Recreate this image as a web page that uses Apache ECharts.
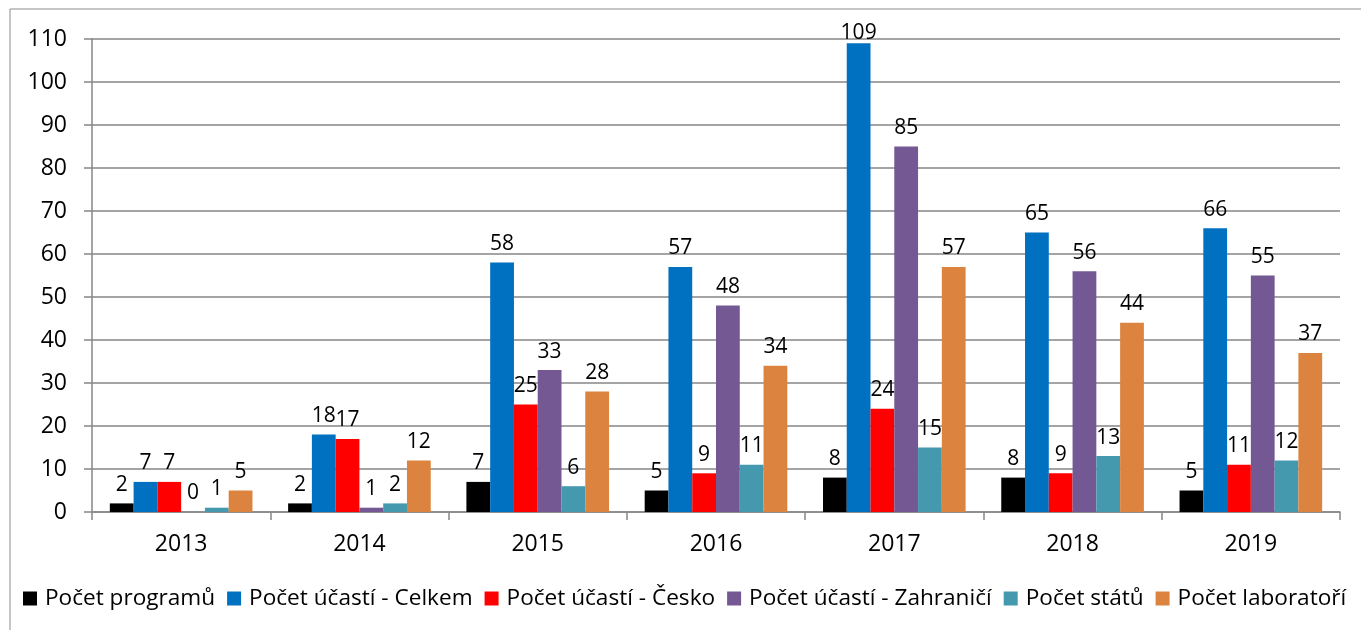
<!DOCTYPE html>
<html><head><meta charset="utf-8">
<script src="https://cdn.jsdelivr.net/npm/echarts@6/dist/echarts.min.js"></script>
<style>html,body{margin:0;padding:0;background:#fff}#c{width:1361px;height:630px}</style>
</head><body><div id="c"></div>
<script>
const categories = ['2013','2014','2015','2016','2017','2018','2019'];
const seriesNames = ['Počet programů','Počet účastí - Celkem','Počet účastí - Česko','Počet účastí - Zahraničí','Počet států','Počet laboratoří'];
const programy = [2,2,7,5,8,8,5];
const celkem = [7,18,58,57,109,65,66];
const cesko = [7,17,25,9,24,9,11];
const zahranici = [0,1,33,48,85,56,55];
const staty = [1,2,6,11,15,13,12];
const laboratore = [5,12,28,34,57,44,37];
const yTicks = [0,10,20,30,40,50,60,70,80,90,100,110];
const colors = ['#000000','#0070C0','#FF0000','#735893','#4599AF','#DC843F'];
const values = [programy, celkem, cesko, zahranici, staty, laboratore];
const FONT = 'Open Sans';
const chart = echarts.init(document.getElementById('c'));
chart.setOption({
  animation:false,
  backgroundColor:'#fff',
  textStyle:{fontFamily:FONT},
  graphic:[{type:'rect',shape:{x:10,y:9,width:1400,height:700},style:{fill:'none',stroke:'#8c8c8c',lineWidth:1},silent:true}],
  legend:{
    left:18, top:582, itemWidth:14, itemHeight:14, itemGap:12,
    icon:'rect',
    textStyle:{fontFamily:FONT,fontSize:22.6,color:'#000',padding:[0,0,0,3]},
    data:seriesNames
  },
  grid:{left:92,right:21,top:39,bottom:118},
  xAxis:{type:'category',data:categories,
    axisLine:{lineStyle:{color:'#868686',width:1.5}},
    axisTick:{show:true,length:8,lineStyle:{color:'#868686',width:1.5}},
    axisLabel:{fontFamily:FONT,fontSize:23,color:'#000',margin:21}},
  yAxis:{type:'value',min:0,max:110,interval:10,
    axisLine:{show:true,lineStyle:{color:'#868686',width:1.5}},
    axisTick:{show:true,length:8,lineStyle:{color:'#868686',width:1.5}},
    splitLine:{show:true,lineStyle:{color:'#868686',width:1.5}},
    axisLabel:{fontFamily:FONT,fontSize:23,color:'#000',margin:25,
      formatter:v=>yTicks.includes(v)?String(v):''}},
  series: seriesNames.map((n,i)=>({
    name:n,type:'bar',barGap:'0%',barCategoryGap:'20%',
    data:values[i].map(v=>v>100?{value:v,label:{distance:0}}:v),
    itemStyle:{color:colors[i]},
    label:{show:true,position:'top',distance:8,fontFamily:FONT,fontSize:21,color:'#000'}
  }))
});
</script></body></html>
